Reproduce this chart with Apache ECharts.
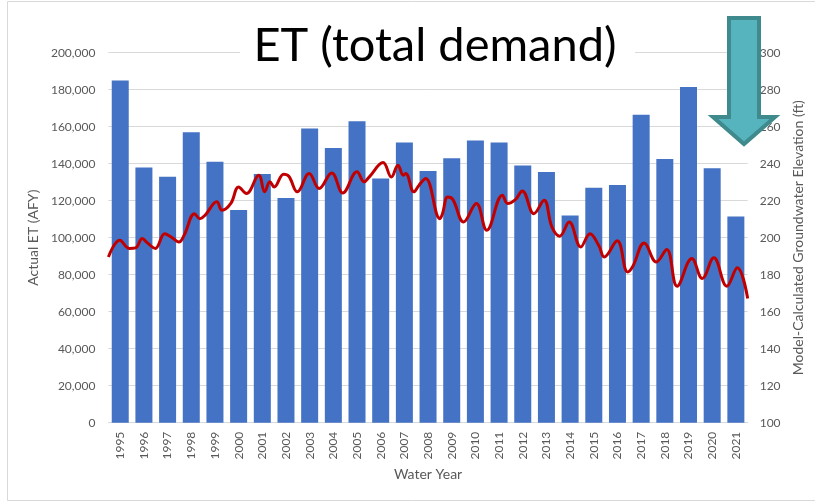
<!DOCTYPE html>
<html>
<head>
<meta charset="utf-8">
<script src="https://cdn.jsdelivr.net/npm/echarts@6/dist/echarts.min.js"></script>
<style>
  html, body { margin: 0; padding: 0; background: #fff; }
  #chart { width: 815px; height: 502px; }
</style>
</head>
<body>
<div id="chart"></div>
<script>
// water years (categories) and annual actual ET, AFY
var years = ['1995','1996','1997','1998','1999','2000','2001','2002','2003','2004','2005','2006','2007','2008',
  '2009','2010','2011','2012','2013','2014','2015','2016','2017','2018','2019','2020','2021'];
var actualET = [185000,138000,133000,157000,141000,115000,134500,121500,159000,148500,163000,132000,151500,136000,
  143000,152500,151500,139000,135500,112000,127000,128500,166500,142500,181500,137500,111500];

// groundwater elevation trace (ft), read at turning points, x as decimal water year
var elevTime = [1994.5,1994.98,1995.38,1995.65,1995.93,1996.15,1996.48,1996.88,1997.15,1997.48,1997.7,
  1998.14,1998.36,1998.58,1999.08,1999.3,1999.67,2000.0,2000.33,2000.85,2001.1,2001.32,2001.5,2001.9,
  2002.12,2002.48,2002.98,2003.4,2003.93,2004.4,2005.0,2005.3,2005.52,2006.1,2006.45,2006.73,2006.95,
  2007.06,2007.4,2007.62,2007.9,2008.5,2008.61,2008.83,2009.05,2009.5,2010.04,2010.48,2011.14,2011.36,
  2011.69,2011.98,2012.47,2012.9,2013.23,2013.56,2013.96,2014.45,2014.84,2015.22,2015.44,2015.99,
  2016.43,2016.65,2017.13,2017.64,2018.08,2018.52,2019.14,2019.58,2020.07,2020.62,2021.06,2021.5];
var elevFt = [189.6,198.6,194.2,194.5,199.6,197.2,194.2,202.2,200.4,197.7,201.4,
  213,210.3,212.1,219.4,214.8,218.5,227.4,223.9,233.8,224.8,230.2,227.4,234.3,
  233.2,224.8,234.7,226.6,235,224.2,235.6,230.2,232.9,240.6,232.8,239.2,233.8,
  234.7,224.8,228.4,232,210.3,213,222,220.6,208.5,218.5,204,223,218.5,
  220.6,225.3,213,220.2,205.8,200.8,208.5,195,202.2,195.5,189.6,198.3,
  181.5,184.6,197.2,186.9,193.6,173.8,188.7,178,189.1,173.8,183.7,167.1];

var elevData = elevTime.map(function (t, i) { return [t, elevFt[i]]; });

var chart = echarts.init(document.getElementById('chart'));
var grey = '#595959';
var gridColor = '#D9D9D9';
var font = 'Lato, "Liberation Sans", sans-serif';

var option = {
  backgroundColor: '#fff',
  animation: false,
  textStyle: { fontFamily: font },
  grid: { left: 108.4, right: 67.3, top: 52.7, bottom: 79.3 },
  xAxis: [{
    type: 'category',
    data: years,
    name: 'Water Year',
    nameLocation: 'middle',
    nameGap: 44,
    nameTextStyle: { color: grey, fontSize: 14, fontFamily: font },
    axisLine: { lineStyle: { color: gridColor, width: 1 } },
    axisTick: { show: false },
    axisLabel: { rotate: 90, color: grey, fontSize: 12, margin: 9, fontFamily: font }
  }, {
    type: 'value',
    min: 1994.5,
    max: 2021.5,
    show: false
  }],
  yAxis: [{
    type: 'value',
    min: 0,
    max: 200000,
    interval: 20000,
    name: 'Actual ET (AFY)',
    nameLocation: 'middle',
    nameRotate: 90,
    nameGap: 64,
    nameTextStyle: { color: grey, fontSize: 14, fontFamily: font },
    axisLine: { show: false },
    axisTick: { show: false },
    axisLabel: {
      color: grey, fontSize: 12, margin: 13, fontFamily: font,
      formatter: function (v) { return v.toLocaleString('en-US'); }
    },
    splitLine: { lineStyle: { color: gridColor, width: 1 } }
  }, {
    type: 'value',
    min: 100,
    max: 300,
    interval: 20,
    position: 'right',
    name: 'Model-Calculated Groundwater Elevation (ft)',
    nameLocation: 'middle',
    nameRotate: 90,
    nameGap: 44,
    nameTextStyle: { color: grey, fontSize: 14, fontFamily: font },
    axisLine: { show: false },
    axisTick: { show: false },
    axisLabel: { color: grey, fontSize: 12, margin: 12, fontFamily: font },
    splitLine: { show: false }
  }],
  series: [{
    name: 'Actual ET',
    type: 'bar',
    data: actualET,
    barWidth: 17,
    itemStyle: { color: '#4472C4' }
  }, {
    name: 'Groundwater Elevation',
    type: 'line',
    xAxisIndex: 1,
    yAxisIndex: 1,
    data: elevData,
    smooth: 0.4,
    symbol: 'none',
    lineStyle: { color: '#C00000', width: 3 },
    z: 5
  }],
  graphic: [
    {
      type: 'rect',
      shape: { x: 7.5, y: 1.5, width: 815, height: 499 },
      style: { fill: 'none', stroke: gridColor, lineWidth: 1 },
      z: 1, silent: true
    },
    {
      type: 'rect',
      shape: { x: 240, y: 15, width: 395, height: 62 },
      style: { fill: '#fff' },
      z: 20, silent: true
    },
    {
      type: 'text',
      x: 435,
      y: 46,
      style: {
        text: 'ET (total demand)',
        font: '47px ' + font,
        fill: '#000',
        textAlign: 'center',
        textVerticalAlign: 'middle'
      },
      z: 21, silent: true
    },
    {
      type: 'polygon',
      shape: { points: [[729, 18], [759, 18], [759, 117], [775, 117], [744, 144], [713, 117], [729, 117]] },
      style: { fill: '#56B4BE', stroke: '#3E8A8C', lineWidth: 4, lineJoin: 'miter' },
      z: 30, silent: true
    }
  ]
};

chart.setOption(option);
</script>
</body>
</html>
